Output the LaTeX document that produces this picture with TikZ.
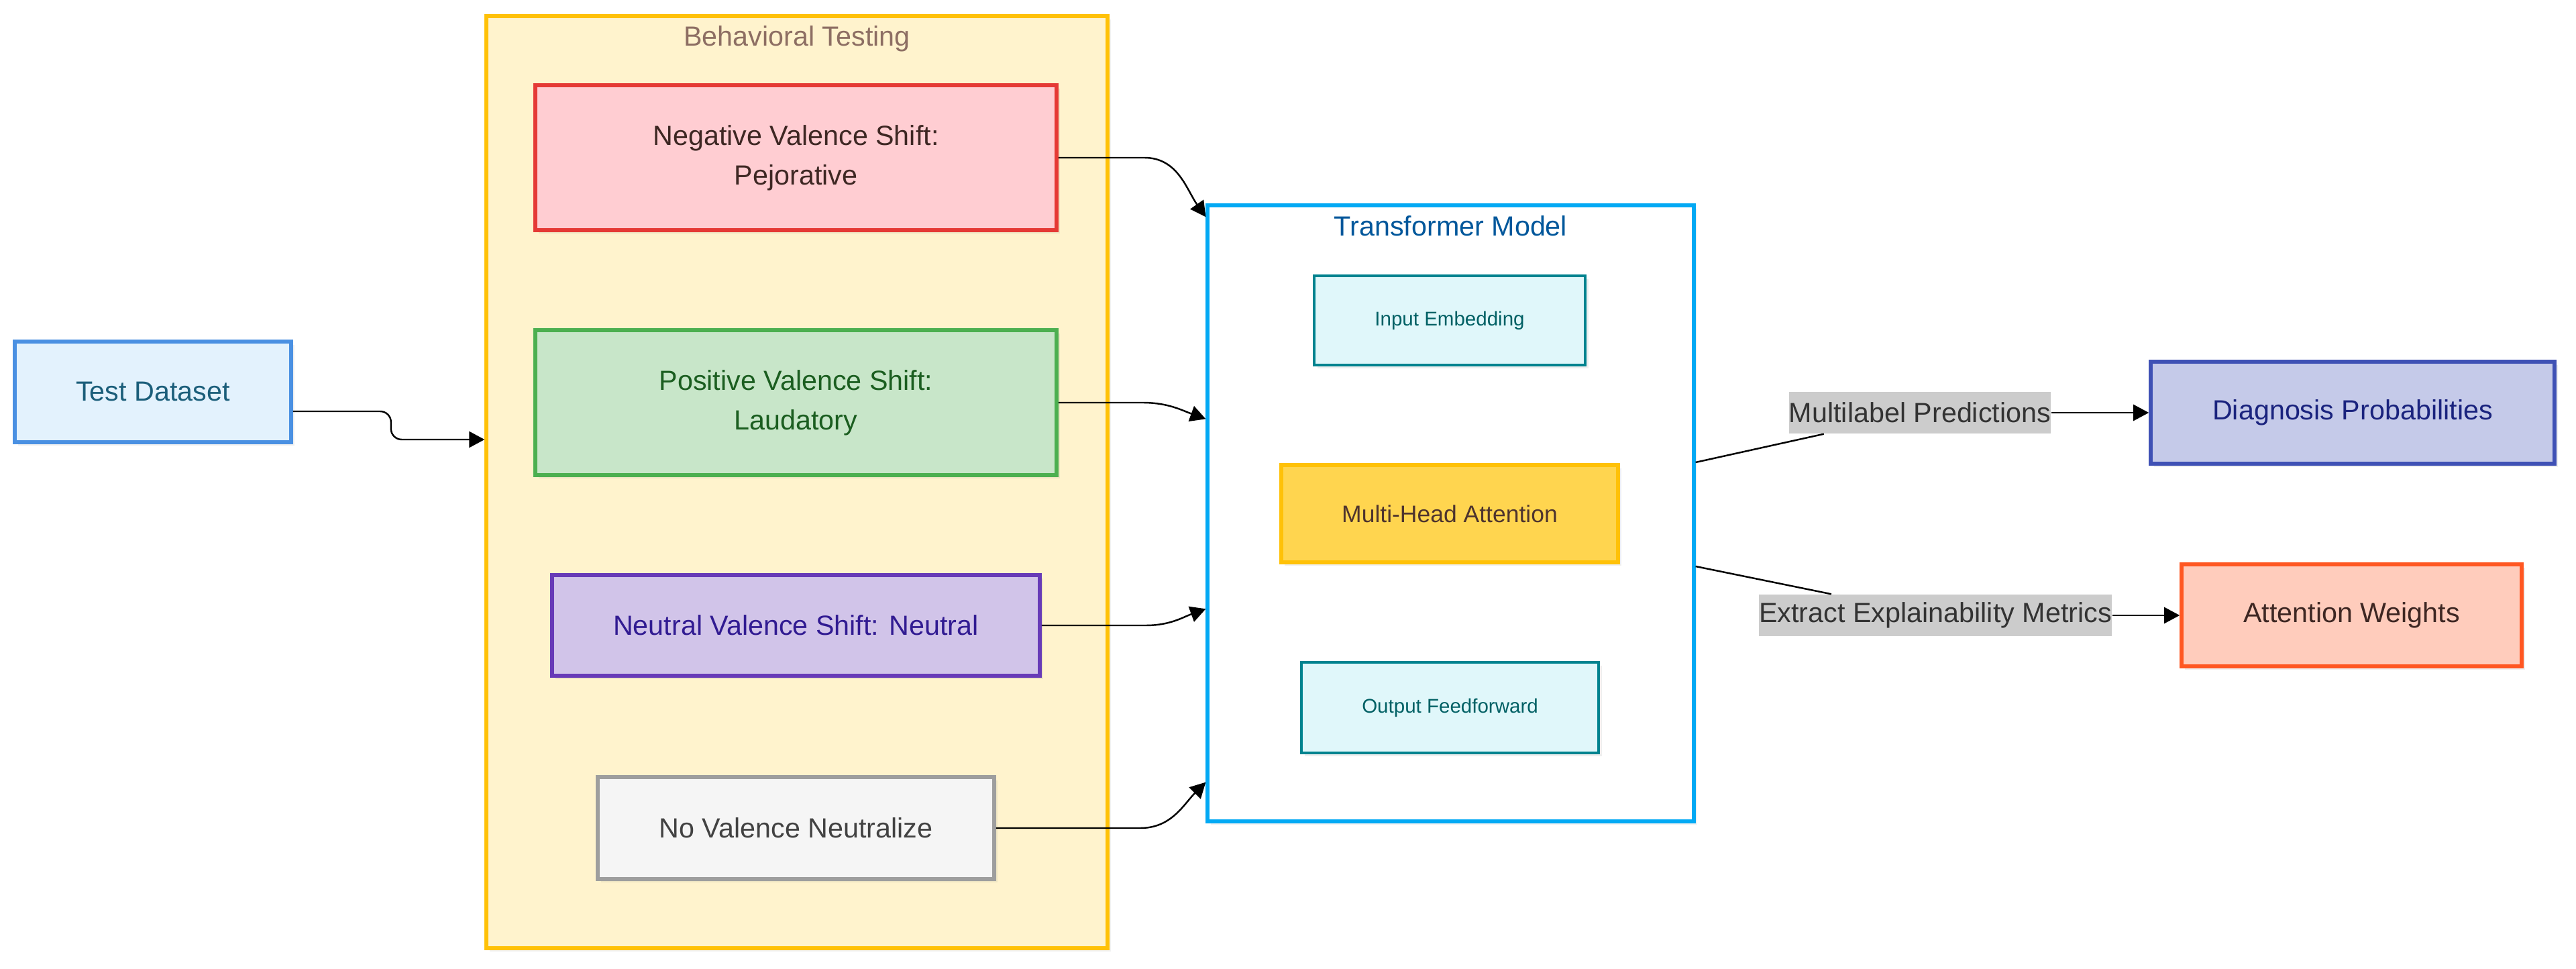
\documentclass[tikz,border=0pt]{standalone}
\usepackage{fontspec}
\setmainfont{Liberation Sans}
\usepackage{tikz}
\usetikzlibrary{arrows.meta,positioning,shadows}
\definecolor{tdfill}{HTML}{E3F2FD}
\definecolor{tddraw}{HTML}{4A90E2}
\definecolor{tdtext}{HTML}{1B5E7A}
\definecolor{btfill}{HTML}{FFF3CD}
\definecolor{btdraw}{HTML}{FFC107}
\definecolor{bttext}{HTML}{8D6E63}
\definecolor{negfill}{HTML}{FFCDD2}
\definecolor{negdraw}{HTML}{E53935}
\definecolor{negtext}{HTML}{3E2723}
\definecolor{posfill}{HTML}{C8E6C9}
\definecolor{posdraw}{HTML}{4CAF50}
\definecolor{postext}{HTML}{1B5E20}
\definecolor{neufill}{HTML}{D1C4E9}
\definecolor{neudraw}{HTML}{673AB7}
\definecolor{neutext}{HTML}{311B92}
\definecolor{nofill}{HTML}{F5F5F5}
\definecolor{nodraw}{HTML}{9E9E9E}
\definecolor{notext}{HTML}{424242}
\definecolor{tmdraw}{HTML}{03A9F4}
\definecolor{tmtext}{HTML}{01579B}
\definecolor{layfill}{HTML}{E0F7FA}
\definecolor{laydraw}{HTML}{00838F}
\definecolor{laytext}{HTML}{006064}
\definecolor{mhfill}{HTML}{FFD54F}
\definecolor{mhtext}{HTML}{4E342E}
\definecolor{dpfill}{HTML}{C5CAE9}
\definecolor{dpdraw}{HTML}{3F51B5}
\definecolor{dptext}{HTML}{1A237E}
\definecolor{awfill}{HTML}{FFCCBC}
\definecolor{awdraw}{HTML}{FF5722}
\definecolor{awtext}{HTML}{3E2723}
\definecolor{lblgray}{HTML}{CCCCCC}
\definecolor{lbltext}{HTML}{333333}

\begin{document}
\begin{tikzpicture}[
  box/.style={rectangle, line width=1.6pt, inner sep=0pt, align=center,
    font=\fontsize{11.75}{16.8}\selectfont,
    drop shadow={opacity=0.12, shadow xshift=0.05cm, shadow yshift=-0.05cm}},
  layer/.style={box, line width=0.9pt, font=\fontsize{8.4}{10}\selectfont},
  cluster/.style={rectangle, line width=1.5pt, inner sep=0pt,
    drop shadow={opacity=0.1, shadow xshift=0.05cm, shadow yshift=-0.05cm}},
  title/.style={font=\fontsize{11.75}{14}\selectfont},
  lbl/.style={fill=lblgray, text=lbltext, inner xsep=0pt, inner ysep=0pt,
    minimum height=0.62cm, font=\fontsize{11.75}{14}\selectfont},
  flow/.style={-{Triangle[length=0.23cm,width=0.24cm]}, line width=0.7pt}
]
\useasboundingbox (0,0) rectangle (38.4,14.43);
% Input
\node[box, fill=tdfill, draw=tddraw, text=tdtext, minimum width=4.12cm, minimum height=1.5cm]
  (test) at (2.28,8.59) {Test Dataset};
% Behavioral Testing group
\node[cluster, fill=btfill, draw=btdraw, minimum width=9.26cm, minimum height=13.89cm]
  (behav) at (11.88,7.245) {};
\node[title, text=bttext] (behavtitle) at ([yshift=-3.6mm]behav.north) {Behavioral Testing};
\node[box, fill=negfill, draw=negdraw, text=negtext, minimum width=7.77cm, minimum height=2.16cm]
  (neg) at (11.865,12.08) {Negative Valence Shift:\\Pejorative};
\node[box, fill=posfill, draw=posdraw, text=postext, minimum width=7.77cm, minimum height=2.16cm]
  (pos) at (11.865,8.43) {Positive Valence Shift:\\Laudatory};
\node[box, fill=neufill, draw=neudraw, text=neutext, minimum width=7.27cm, minimum height=1.5cm]
  (neu) at (11.865,5.11) {Neutral Valence Shift: Neutral};
\node[box, fill=nofill, draw=nodraw, text=notext, minimum width=5.91cm, minimum height=1.52cm]
  (noval) at (11.865,2.09) {No Valence Neutralize};
% Transformer group
\node[cluster, fill=white, draw=tmdraw, minimum width=7.25cm, minimum height=9.18cm]
  (trans) at (21.625,6.78) {};
\node[title, text=tmtext] (transtitle) at ([yshift=-3.3mm]trans.north) {Transformer Model};
\node[layer, fill=layfill, draw=laydraw, text=laytext, minimum width=4.04cm, minimum height=1.33cm]
  (embed) at (21.61,9.655) {Input Embedding};
\node[box, fill=mhfill, draw=btdraw, text=mhtext, minimum width=5.02cm, minimum height=1.45cm,
  font=\fontsize{10.1}{12}\selectfont]
  (mha) at (21.61,6.775) {Multi-Head Attention};
\node[layer, fill=layfill, draw=laydraw, text=laytext, minimum width=4.43cm, minimum height=1.35cm]
  (ffwd) at (21.615,3.885) {Output Feedforward};
% Outputs
\node[lbl] (lblpred) at (28.62,8.28) {Multilabel Predictions};
\node[box, fill=dpfill, draw=dpdraw, text=dptext, minimum width=6.02cm, minimum height=1.52cm]
  (diag) at (35.07,8.28) {Diagnosis Probabilities};
\node[lbl] (lblexpl) at (28.85,5.26) {Extract Explainability Metrics};
\node[box, fill=awfill, draw=awdraw, text=awtext, minimum width=5.07cm, minimum height=1.52cm]
  (attn) at (35.055,5.26) {Attention Weights};
% Edges
\draw[flow, rounded corners=0.16cm] ([yshift=-2.9mm]test.east) -- ++(1.46,0)
  |- ([yshift=6.35mm]behav.west);
\draw[flow] (neg.east) -- ++(1.28,0) to[out=0,in=125] ([yshift=-2mm]trans.north west);
\draw[flow] (pos.east) -- ++(1.25,0) to[out=0,in=160] ([yshift=-32.1mm]trans.north west);
\draw[flow] (neu.east) -- ++(1.55,0) to[out=0,in=200] ([yshift=-60.4mm]trans.north west);
\draw[flow] (noval.east) -- ++(2.15,0) to[out=0,in=225] ([yshift=6.1mm]trans.south west);
\draw[line width=0.7pt] ([yshift=7.6mm]trans.east) -- (lblpred);
\draw[flow] (lblpred) -- (diag);
\draw[line width=0.7pt] ([yshift=-7.9mm]trans.east) -- (lblexpl);
\draw[flow] (lblexpl) -- (attn);
\end{tikzpicture}
\end{document}
